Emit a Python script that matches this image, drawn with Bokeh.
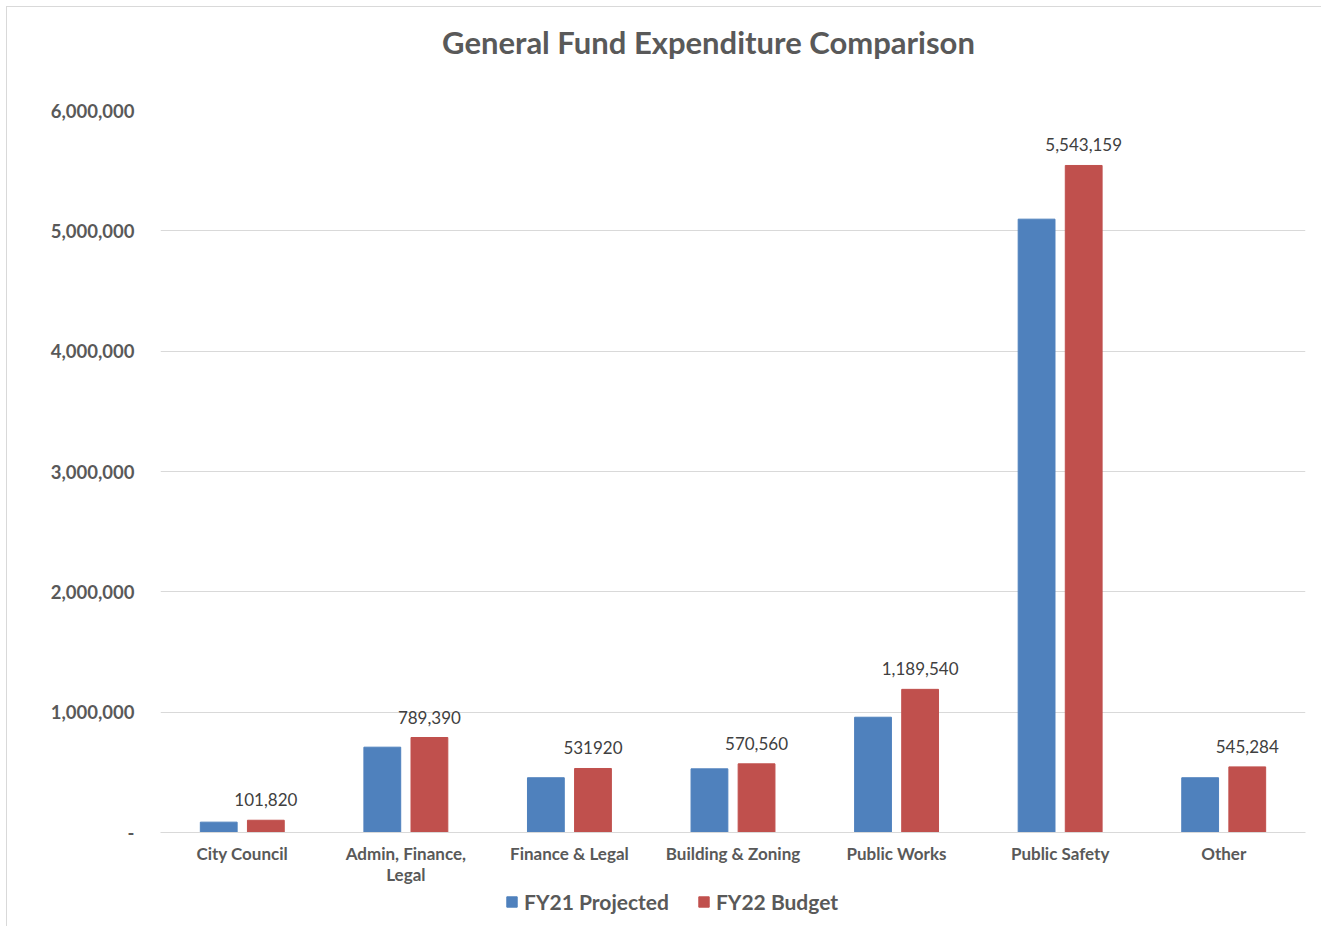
from bokeh.plotting import figure
from bokeh.models import FactorRange, ColumnDataSource, Legend, LegendItem, NumeralTickFormatter, FixedTicker, Range1d
from bokeh.layouts import column
from bokeh.core.properties import value
from bokeh.transform import dodge
from bokeh.embed import file_html
from bokeh.resources import INLINE

categories = ["City Council", "Admin, Finance,\nLegal", "Finance & Legal", "Building & Zoning",
              "Public Works", "Public Safety", "Other"]
fy21_projected = [86000, 709000, 455000, 529000, 958000, 5097000, 455000]
fy22_budget = [101820, 789390, 531920, 570560, 1189540, 5543159, 545284]
fy22_labels = ["101,820", "789,390", "531920", "570,560", "1,189,540", "5,543,159", "545,284"]
y_ticks = [0, 1000000, 2000000, 3000000, 4000000, 5000000, 6000000]
series_names = ["FY21 Projected", "FY22 Budget"]
series_colors = ["#4F81BD", "#C0504D"]
chart_title = "General Fund Expenditure Comparison"

src = ColumnDataSource(dict(cat=categories, fy21=fy21_projected, fy22=fy22_budget, lab=fy22_labels))

FONT = "Lato"
GREY = "#595959"
W = 1314
FL, FR = 160, 1305   # page x of the (column-aligned) plot frames


def blank(h):
    f = figure(width=W, height=h, x_range=Range1d(FL, FR), y_range=Range1d(0, h),
               output_backend="svg", toolbar_location=None,
               x_axis_location=None, y_axis_location=None,
               min_border=0, min_border_left=0, min_border_right=0, min_border_top=0, min_border_bottom=0)
    f.grid.visible = False
    f.outline_line_color = None
    f.background_fill_alpha = 0
    f.border_fill_alpha = 0
    return f


# ---- title strip ----
pt = blank(70)
pt.text(x=[708], y=[36], text=[chart_title], text_align="center", text_baseline="middle",
        text_font=value(FONT), text_font_size="31px", text_font_style="bold", text_color=GREY)

# ---- main chart ----
p = figure(width=W, height=810, x_range=FactorRange(*categories), y_range=Range1d(0, 6000000),
           output_backend="svg", toolbar_location=None,
           min_border_left=153, min_border_right=16, min_border_top=33, min_border_bottom=55)
p.outline_line_color = None
p.background_fill_color = "white"
p.border_fill_color = "white"

w = 0.225
p.vbar(x=dodge("cat", -0.144, range=p.x_range), top="fy21", width=w, source=src,
       fill_color=series_colors[0], line_color=series_colors[0])
p.vbar(x=dodge("cat", 0.144, range=p.x_range), top="fy22", width=w, source=src,
       fill_color=series_colors[1], line_color=series_colors[1])

p.text(x=dodge("cat", 0.144, range=p.x_range), y="fy22", text="lab", source=src,
       text_align="center", text_baseline="bottom", y_offset=-14,
       text_font=value(FONT), text_font_size="17px", text_color="#404040")

p.yaxis.ticker = FixedTicker(ticks=y_ticks)
p.yaxis.formatter = NumeralTickFormatter(format="0,0")
p.yaxis.major_label_overrides = {0: "-"}
p.yaxis.axis_line_color = None
p.yaxis.major_tick_line_color = None
p.yaxis.minor_tick_line_color = None
p.yaxis.major_label_text_font = FONT
p.yaxis.major_label_text_font_size = "18.5px"
p.yaxis.major_label_text_font_style = "bold"
p.yaxis.major_label_text_color = GREY
p.yaxis.major_label_standoff = 20

p.xaxis.axis_line_color = "#d9d9d9"
p.xaxis.axis_line_width = 1
p.xaxis.major_tick_line_color = None
p.xaxis.minor_tick_line_color = None
p.xaxis.major_label_text_font = FONT
p.xaxis.major_label_text_font_size = "17px"
p.xaxis.major_label_text_font_style = "bold"
p.xaxis.major_label_text_color = GREY
p.xaxis.major_label_text_line_height = 1.0
p.xaxis.major_label_standoff = 4

p.xgrid.grid_line_color = None
p.ygrid.grid_line_color = "#d9d9d9"
p.ygrid.grid_line_width = 1

# ---- legend strip ----
pl = blank(39)
dummy_src = ColumnDataSource(dict(x=[-100000], top=[0]))
rs = [pl.vbar(x="x", top="top", width=1, source=dummy_src, fill_color=c, line_color=c)
      for c in series_colors]
legend = Legend(items=[LegendItem(label=n, renderers=[r]) for n, r in zip(series_names, rs)],
                orientation="horizontal", location=(345, 12),
                label_text_font=FONT, label_text_font_size="21px", label_text_font_style="bold",
                label_text_color=GREY, glyph_width=13, glyph_height=13, spacing=28,
                border_line_color=None, background_fill_alpha=0, padding=0, margin=0,
                label_standoff=6)
pl.add_layout(legend)

layout = column(pt, p, pl, spacing=0)
layout.styles = {"margin-left": "6px", "margin-top": "6px",
                 "border-left": "1px solid #d9d9d9", "border-top": "1px solid #d9d9d9"}

open("out.html", "w").write(file_html(layout, INLINE))
